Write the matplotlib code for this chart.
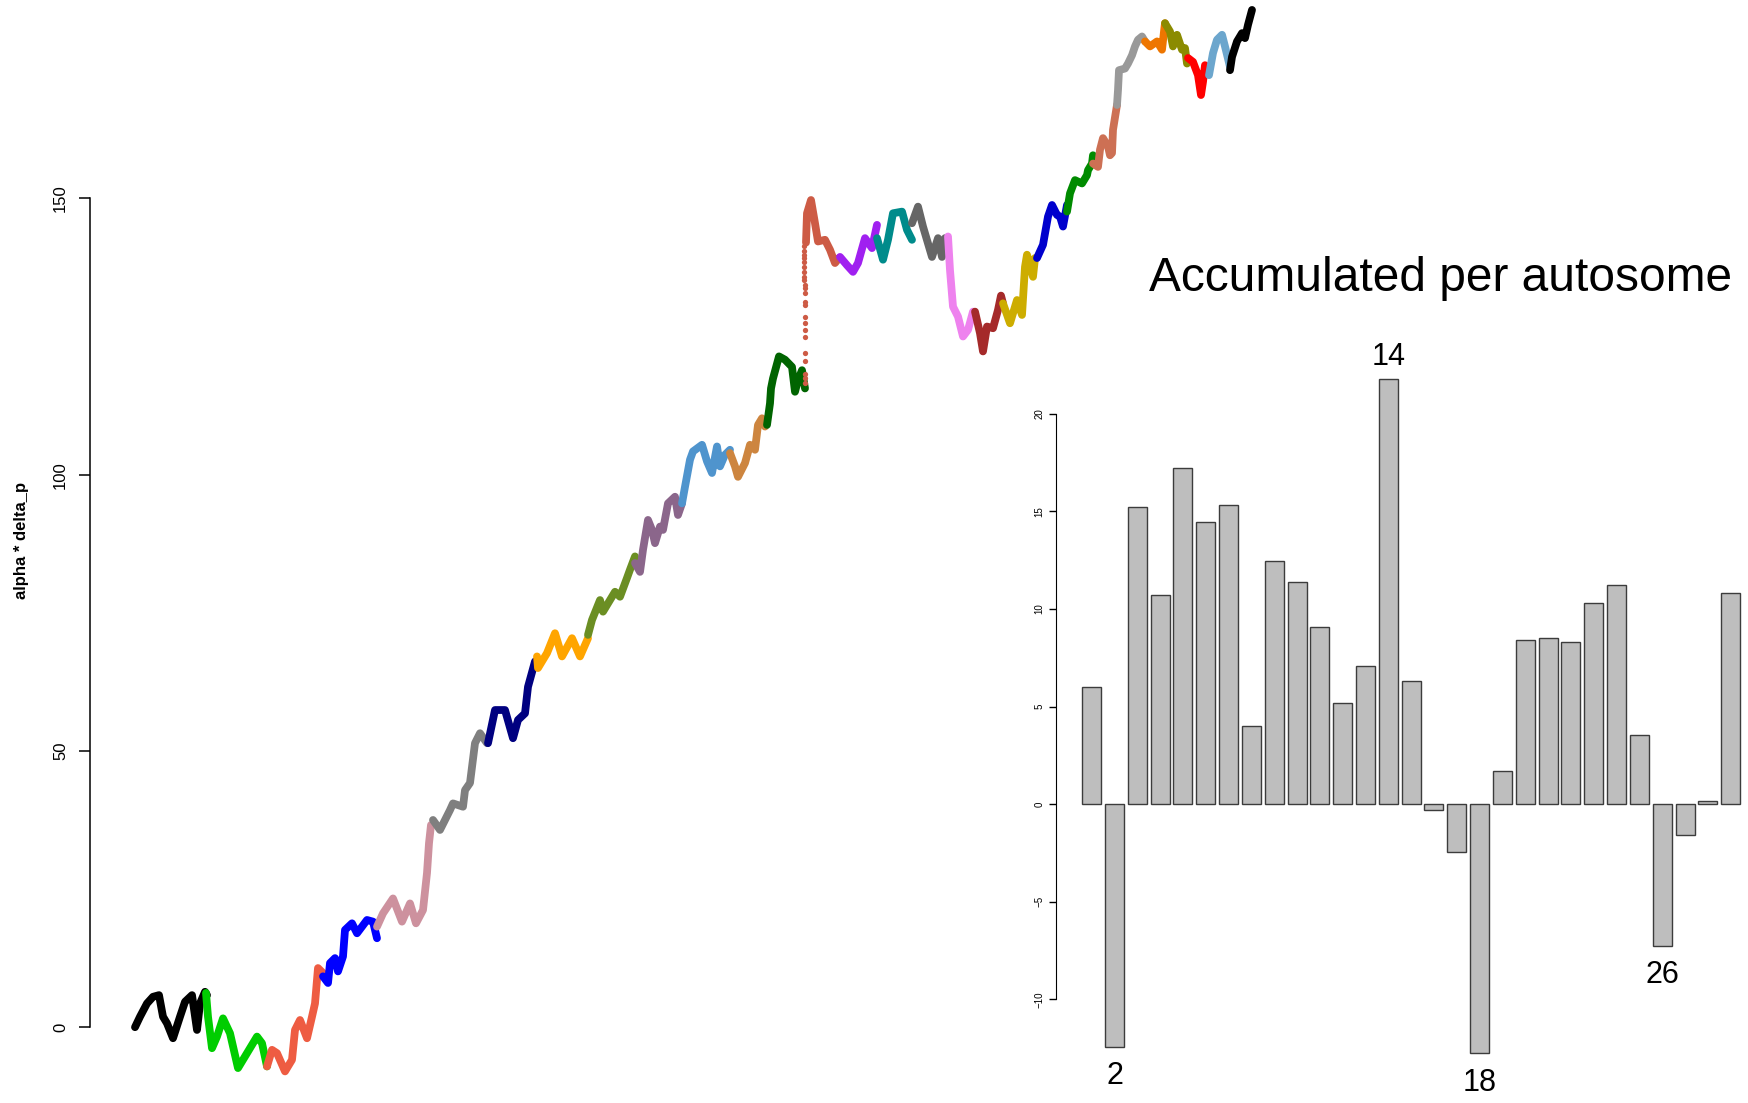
import numpy as np
import matplotlib.pyplot as plt

plt.rcParams['font.family'] = ['Liberation Sans', 'DejaVu Sans']

# per-autosome cumulative alpha*delta_p trace (position, value)
chr_pos = [
    [0, 5, 12, 18, 24, 28, 32, 38, 45, 50, 57, 62, 65, 70, 72],
    [71, 73, 77, 82, 88, 95, 103, 108, 113, 122, 127, 132],
    [132, 137, 142, 150, 157, 160, 165, 172, 177, 180, 183, 188],
    [188, 193, 195, 200, 203, 208, 210, 217, 222, 232, 238, 242],
    [242, 248, 258, 267, 275, 281, 288, 292, 294, 296],
    [298, 305, 315, 318, 328, 330, 335, 340, 345, 352],
    [353, 360, 370, 378, 383, 390, 393, 400],
    [402, 403, 412, 420, 427, 437, 445, 453],
    [453, 457, 465, 468, 480, 485, 492, 495, 500],
    [500, 505, 508, 513, 517, 520, 525, 528, 533, 540, 543, 547],
    [547, 550, 555, 558, 567, 572, 577, 582, 585, 590, 595],
    [595, 600, 603, 610, 615, 620, 623, 627, 630],
    [632, 635, 636, 638, 644, 650, 657, 660, 663, 667, 670],
    [671, 672, 676, 680, 683, 690, 695, 700, 704],
    [705, 712, 718, 723, 730, 737, 742],
    [742, 748, 753, 758, 767, 772, 777],
    [777, 783, 788, 797, 803, 807, 810],
    [813, 815, 818, 823, 828, 833, 838],
    [840, 845, 848, 852, 858, 863, 866, 868],
    [868, 875, 882, 887, 890, 892, 898, 900],
    [902, 908, 913, 917, 922, 925, 928, 932],
    [932, 935, 940, 947, 952, 953, 957, 958],
    [958, 963, 965, 968, 973, 975, 977, 978, 982],
    [982, 983, 984, 990, 993, 997, 1000, 1003, 1007, 1010],
    [1010, 1015, 1022, 1027, 1029, 1030],
    [1030, 1035, 1038, 1042, 1047, 1050, 1052],
    [1053, 1058, 1063, 1066, 1068, 1070, 1072],
    [1074, 1078, 1082, 1087, 1090, 1095],
    [1095, 1097, 1102, 1107, 1110, 1113, 1117],
]
chr_val = [
    [0.0, 1.9, 4.3, 5.5, 5.8, 1.9, 0.7, -2.0, 1.9, 4.6, 5.8, -0.5, 4.3, 6.4, 5.8],
    [6.2, 1.9, -3.8, -1.7, 1.6, -1.1, -7.4, -5.9, -4.4, -1.7, -2.9, -7.1],
    [-7.1, -4.1, -4.7, -8.0, -5.9, -0.5, 1.3, -2.0, 1.9, 4.3, 10.7, 9.8],
    [9.2, 8.0, 11.6, 12.5, 10.1, 12.8, 17.6, 18.8, 17.0, 19.4, 19.1, 16.1],
    [18.2, 20.6, 23.3, 19.1, 22.4, 18.8, 21.2, 27.9, 33.3, 36.6],
    [37.5, 35.7, 39.3, 40.5, 39.9, 42.9, 44.2, 51.4, 53.2, 51.4],
    [51.4, 57.4, 57.4, 52.3, 55.6, 56.8, 61.6, 66.2],
    [67.1, 65.0, 67.7, 71.3, 67.1, 70.4, 67.1, 70.4],
    [71.0, 73.7, 77.3, 75.2, 78.8, 77.9, 81.3, 82.8, 85.2],
    [84.0, 82.4, 86.4, 91.8, 90.0, 87.6, 90.6, 90.0, 94.8, 96.0, 92.7, 94.8],
    [94.8, 97.8, 102.7, 104.2, 105.4, 102.4, 100.3, 105.1, 101.5, 103.6, 104.5],
    [103.9, 101.5, 99.6, 102.1, 105.4, 104.5, 109.0, 110.2, 108.7],
    [109.0, 112.9, 115.6, 117.4, 121.4, 120.8, 119.5, 115.0, 117.1, 118.9, 115.6],
    [142.0, 147.3, 149.7, 145.5, 142.2, 142.5, 140.7, 138.3, 139.2],
    [139.4, 137.9, 136.7, 138.3, 142.8, 141.0, 145.2],
    [142.8, 138.9, 142.5, 147.3, 147.6, 144.3, 142.5],
    [145.5, 148.5, 144.9, 139.4, 142.8, 139.4, 142.8],
    [143.1, 137.0, 130.4, 128.6, 125.0, 126.2, 129.5],
    [129.5, 125.6, 122.3, 126.8, 126.5, 129.8, 132.4, 131.0],
    [131.0, 127.4, 131.6, 128.9, 137.6, 139.8, 135.8, 139.2],
    [139.2, 141.6, 146.7, 148.8, 147.0, 146.7, 144.9, 148.8],
    [147.6, 150.9, 153.3, 152.7, 154.2, 155.1, 156.3, 157.8],
    [156.3, 155.7, 158.8, 160.9, 159.4, 157.8, 158.2, 162.4, 166.9],
    [166.9, 169.6, 173.2, 173.5, 174.4, 175.9, 177.5, 178.7, 179.3, 178.4],
    [178.4, 177.5, 178.4, 176.9, 180.2, 181.7],
    [181.7, 180.2, 177.5, 179.6, 176.9, 177.2, 174.4],
    [175.4, 174.7, 172.3, 168.7, 171.1, 174.1, 173.2],
    [172.3, 176.3, 178.7, 179.6, 177.5, 173.8],
    [173.2, 175.6, 178.4, 179.9, 179.0, 181.4, 184.1],
]

# sparse SNPs in the big jump on autosome 14
jump_pos = [670, 670, 670, 670, 670, 670, 670, 670, 670, 670, 670, 670,
            670, 670, 669, 669, 669, 669, 669, 669, 669, 669, 669]
jump_val = [116.6, 117.4, 118.2, 120.6, 122.0, 125.0, 126.2, 127.4, 128.6, 130.7,
            131.3, 132.8, 133.7, 134.3, 135.2, 135.8, 136.7, 137.6, 138.4, 139.2,
            139.8, 140.4, 141.3]

chr_colors = ['black', '#00CD00', '#EE5C42', '#0000FF', '#CD919E', '#7F7F7F',
              '#000080', '#FFA500', '#6B8E23', '#8B668B', '#4F94CD', '#CD853F',
              '#006400', '#CD5B45', '#A020F0', '#008B8B', '#666666', '#EE82EE',
              '#A52A2A', '#CDAD00', '#0000CD', '#008B00', '#CD7054', '#999999',
              '#EE7600', '#8B8B00', '#FF0000', '#6CA6CD', 'black']

# accumulated value per autosome
autosomes = list(range(1, 30))
accum = [6.0, -12.44, 15.22, 10.74, 17.22, 14.46, 15.32, 3.99, 12.46, 11.40,
         9.09, 5.17, 7.09, 21.8, 6.33, -0.32, -2.46, -12.76, 1.70, 8.42,
         8.50, 8.33, 10.32, 11.23, 3.55, -7.24, -1.60, 0.15, 10.84]
labelled = [2, 14, 18, 26]

W, H = 1749, 1103


def px_rect(l, t, r, b):
    return [l / W, 1 - b / H, (r - l) / W, (b - t) / H]


fig = plt.figure(figsize=(W / 100, H / 100), dpi=100)

# main trace
ax = fig.add_axes(px_rect(90.3, 0, 1296.7, 1103))
for xs, ys, c in zip(chr_pos, chr_val, chr_colors):
    ax.plot(xs, ys, color=c, lw=5.6, solid_capstyle='round', solid_joinstyle='round')
ax.plot(jump_pos, jump_val, ls='none', marker='o', ms=3.8, mew=0, color=chr_colors[13])
ax.set_xlim(-44.7, 1161.7)
ax.set_ylim(-13.72, 185.9)
for s in ['top', 'right', 'bottom']:
    ax.spines[s].set_visible(False)
ax.spines['left'].set_bounds(0, 150)
ax.spines['left'].set_linewidth(1.1)
ax.set_xticks([])
ax.set_yticks([0, 50, 100, 150])
ax.tick_params(axis='y', length=8, width=1.1, pad=8, labelsize=12)
for t in ax.get_yticklabels():
    t.set_rotation(90)
    t.set_va('center')
ax.patch.set_visible(False)
fig.text(22 / W, 1 - 540 / H, 'alpha * delta_p', rotation=90, fontsize=12,
         fontweight='bold', ha='center', va='center')

# inset bar chart
ax2 = fig.add_axes(px_rect(1055.8, 351.7, 1766.5, 1081))
centers = [0.7 + 1.2 * i for i in range(len(autosomes))]
ax2.bar(centers, accum, width=1.0, color='#BEBEBE', edgecolor='#3C3C3C', lw=1.0)
ax2.set_xlim(-1.184, 36.184)
ax2.set_ylim(-14.18, 23.18)
for s in ['top', 'right', 'bottom']:
    ax2.spines[s].set_visible(False)
ax2.spines['left'].set_bounds(-10, 20)
ax2.set_xticks([])
ax2.set_yticks([-10, -5, 0, 5, 10, 15, 20])
ax2.tick_params(axis='y', length=5, width=1.0, pad=3, labelsize=7)
for t in ax2.get_yticklabels():
    t.set_rotation(90)
    t.set_va('center')
ax2.patch.set_visible(False)
for a in labelled:
    v = accum[a - 1]
    if v > 0:
        ax2.text(centers[a - 1], v + 1.1, str(a), ha='center', va='center', fontsize=22)
    else:
        ax2.text(centers[a - 1], v - 1.5, str(a), ha='center', va='center', fontsize=22)

fig.text(1440.5 / W, 1 - 291 / H, 'Accumulated per autosome', fontsize=34.5,
         ha='center', va='baseline')

fig.savefig('out.png', dpi=100, facecolor='white')
